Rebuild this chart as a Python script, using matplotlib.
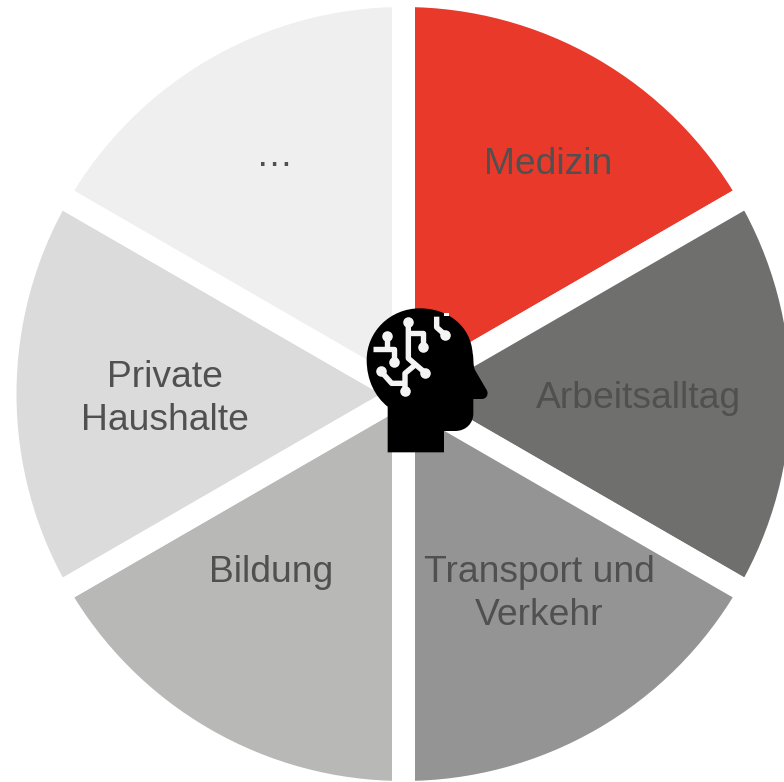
import matplotlib
matplotlib.use('Agg')
import numpy as np
from matplotlib import pyplot as plt
from matplotlib.path import Path
from matplotlib.patches import PathPatch, Rectangle

plt.rcParams['font.family'] = ['Liberation Sans', 'DejaVu Sans']

W, H = 784, 782

# one equal share per field, clockwise from the top
fields = ['Medizin', 'Arbeitsalltag', 'Transport und\nVerkehr', 'Bildung', 'Private\nHaushalte', '…']
shares = [1, 1, 1, 1, 1, 1]
colors = ['#E8392B', '#6F6F6E', '#949494', '#B8B8B6', '#DBDBDB', '#EFEFEF']
label_x = [548, 638.5, 539, 271, 165, 275]
label_y = [165, 399, 594, 573, 399, 156]

fig = plt.figure(figsize=(W / 100, H / 100), dpi=100)
ax = fig.add_axes([0, 0, 1, 1])

# white wedge borders make the gaps between the slices
gap = 23
cx, cy = 403.5, 394
ax.pie(shares, colors=colors, startangle=90, counterclock=False,
       center=(cx, H - cy), radius=387 + gap / 2,
       wedgeprops={'edgecolor': 'white', 'linewidth': gap * 0.72, 'joinstyle': 'miter'})
ax.set_xlim(0, W)
ax.set_ylim(0, H)
ax.set_aspect('auto')
ax.axis('off')

for name, x, y in zip(fields, label_x, label_y):
    ax.text(x, H - y, name, ha='center', va='center', fontsize=26.8,
            color='#505050', linespacing=1.28)


# head icon, outline taken in pixels of the picture
def z(x, y):
    return 340 + x / 3, H - (290 + y / 3)

head = [(Path.MOVETO, (143, 487)), (Path.LINETO, (312, 487)), (Path.LINETO, (312, 423)),
        (Path.LINETO, (345, 423)), (Path.CURVE4, (378, 423)), (Path.CURVE4, (400, 400)),
        (Path.CURVE4, (400, 370)), (Path.LINETO, (400, 327)), (Path.LINETO, (425, 327)),
        (Path.CURVE4, (440, 327)), (Path.CURVE4, (447, 312)), (Path.CURVE4, (440, 300)),
        (Path.LINETO, (405, 240)), (Path.CURVE4, (398, 225)), (Path.CURVE4, (402, 205)),
        (Path.CURVE4, (398, 190)), (Path.CURVE4, (392, 105)), (Path.CURVE4, (320, 55)),
        (Path.CURVE4, (240, 55)), (Path.CURVE4, (150, 55)), (Path.CURVE4, (80, 125)),
        (Path.CURVE4, (80, 210)), (Path.CURVE4, (80, 270)), (Path.CURVE4, (105, 320)),
        (Path.CURVE4, (143, 350)), (Path.CLOSEPOLY, (143, 487))]
ax.add_patch(PathPatch(Path([z(*p) for c, p in head], [c for c, p in head]),
                       facecolor='black', edgecolor='none', zorder=5))

traces = [
    [(205, 95), (205, 205), (255, 248)],
    [(205, 130), (248, 130), (248, 170)],
    [(225, 225), (195, 250), (195, 303)],
    [(122, 243), (155, 280), (195, 280)],
    [(142, 137), (142, 178)],
    [(100, 178), (162, 178), (162, 217)],
    [(290, 80), (290, 112), (317, 136)],
]
nodes = [(205, 95), (255, 248), (248, 170), (195, 303), (122, 243),
         (142, 137), (162, 217), (316, 136)]
for t in traces:
    xs, ys = zip(*[z(*p) for p in t])
    ax.plot(xs, ys, color='#F4F4F4', lw=3.9, solid_capstyle='butt', zorder=6)
xs, ys = zip(*[z(*p) for p in nodes])
ax.plot(xs, ys, 'o', color='#F4F4F4', ms=7.6, mew=0, zorder=6)
nx, ny = z(312, 78)
ax.add_patch(Rectangle((nx, ny), 15 / 3, 8 / 3, facecolor='white', edgecolor='none', zorder=6))

fig.savefig('out.png', dpi=100)
